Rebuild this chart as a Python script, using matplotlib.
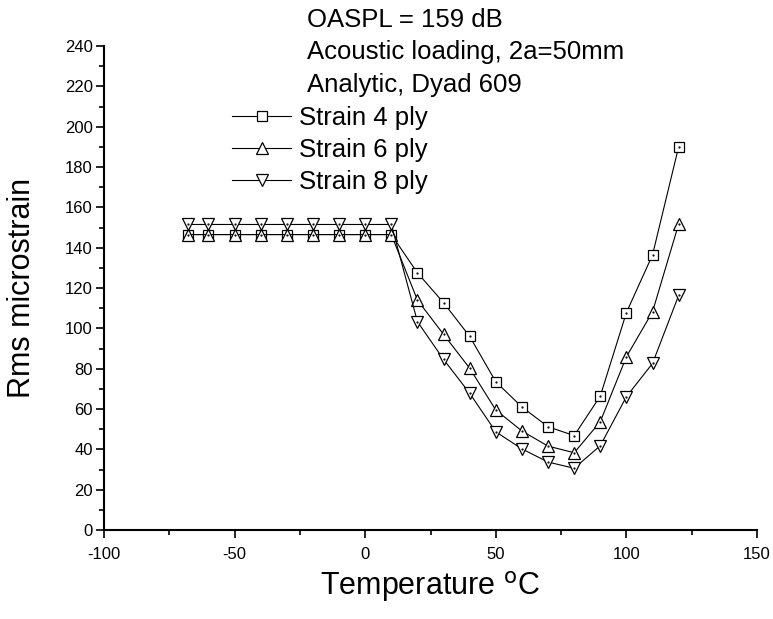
import matplotlib

matplotlib.use("Agg")
import matplotlib.pyplot as plt
from matplotlib.ticker import MultipleLocator

plt.rcParams["font.family"] = ["Liberation Sans", "DejaVu Sans"]
plt.rcParams["axes.unicode_minus"] = False

temperature = [-68, -60, -50, -40, -30, -20, -10, 0, 10, 20, 30, 40, 50, 60, 70, 80, 90, 100, 110, 120]
strain_4ply = [146.5] * 9 + [127.5, 112.7, 96.0, 73.5, 61.0, 51.2, 46.8, 66.4, 107.8, 136.4, 190.0]
strain_6ply = [146.5] * 9 + [114.0, 97.0, 80.2, 59.5, 49.1, 41.6, 38.3, 53.7, 85.9, 108.2, 151.7]
strain_8ply = [151.5] * 9 + [103.3, 84.6, 67.8, 48.7, 40.2, 33.7, 30.6, 41.8, 66.1, 82.6, 116.3]

series = [
    ("Strain 4 ply", strain_4ply, "s", 7.0),
    ("Strain 6 ply", strain_6ply, "^", 8.5),
    ("Strain 8 ply", strain_8ply, "v", 8.5),
]
notes = ["OASPL = 159 dB", "Acoustic loading, 2a=50mm", "Analytic, Dyad 609"]


def main() -> None:
    W, H = 773, 619
    fig = plt.figure(figsize=(W / 100, H / 100), dpi=100)
    ax = fig.add_axes([104 / W, (H - 530) / H, (757 - 104) / W, (530 - 46) / H])

    handles = []
    for label, values, marker, size in series:
        (line,) = ax.plot(
            temperature, values, color="black", linewidth=0.8,
            marker=marker, markersize=size, markerfacecolor="white",
            markeredgecolor="black", markeredgewidth=0.9, label=label,
        )
        # Origin-style dot in the middle of each symbol
        ax.plot(temperature, values, linestyle="none", marker=".", markersize=1.2, color="black")
        handles.append(line)

    ax.set_xlim(-100, 150)
    ax.set_ylim(0, 240)
    ax.xaxis.set_major_locator(MultipleLocator(50))
    ax.xaxis.set_minor_locator(MultipleLocator(25))
    ax.yaxis.set_major_locator(MultipleLocator(20))
    ax.yaxis.set_minor_locator(MultipleLocator(10))
    for side in ("top", "right"):
        ax.spines[side].set_visible(False)
    for side in ("left", "bottom"):
        ax.spines[side].set_linewidth(1.5)
    ax.tick_params(which="major", direction="out", length=6, width=1.2, labelsize=12, pad=2)
    ax.tick_params(axis="x", which="major", pad=6)
    ax.tick_params(which="minor", direction="out", length=3.5, width=1.2)

    ax.set_xlabel("Temperature $^{\\mathsf{o}}$C", fontsize=22, labelpad=5)
    ax.set_ylabel("Rms microstrain", fontsize=22, labelpad=20)

    for i, text in enumerate(notes):
        fig.text(307 / W, 1 - (20 + 32.5 * i) / H, text, fontsize=18.5, va="center", ha="left")

    leg = fig.legend(
        handles=handles, loc="upper left", bbox_to_anchor=(232 / W, 1 - 106 / H),
        frameon=False, fontsize=18.5, handlelength=2.3, handletextpad=0.3,
        labelspacing=0.31, borderpad=0, borderaxespad=0,
    )
    leg.set_zorder(5)

    fig.savefig("out.png", dpi=100)
    plt.close(fig)


if __name__ == "__main__":
    main()
